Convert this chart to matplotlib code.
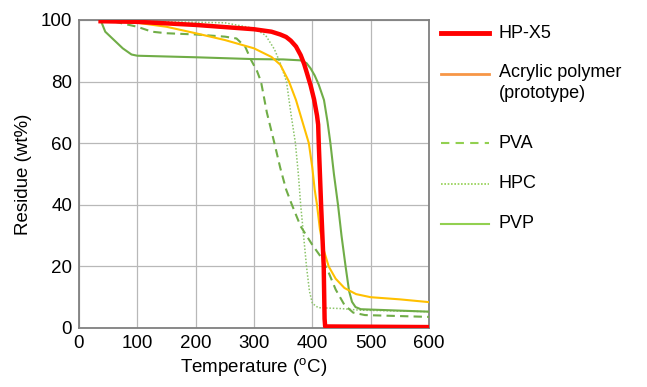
import matplotlib
matplotlib.use("Agg")
import matplotlib.pyplot as plt
from matplotlib.lines import Line2D

plt.rcParams['font.family'] = ['Liberation Sans', 'DejaVu Sans']
plt.rcParams['mathtext.fontset'] = 'custom'
plt.rcParams['mathtext.rm'] = 'Liberation Sans'

series_names = ["HP-X5", "Acrylic polymer\n(prototype)", "PVA", "HPC", "PVP"]

hpx5_t = [37, 100, 200, 300, 330, 345, 355, 363, 372, 380, 386, 391, 397, 403, 408, 410, 411, 415,
          419.5, 421, 422, 600]
hpx5_y = [99.6, 99.4, 98.4, 97.0, 96.2, 95.3, 94.5, 93.3, 91.4, 88.6, 85.7, 82.6, 78.8, 74.2, 69, 66, 60, 40,
          20, 3, 0.5, 0.3]

acr_t = [37, 100, 150, 200, 250, 300, 330, 345, 360, 372, 383, 394, 400, 404, 408, 413, 420, 428,
         440, 455, 475, 500, 550, 600]
acr_y = [100, 99.1, 97.8, 95.7, 93.5, 90.8, 88, 85.5, 80, 74, 67, 60, 52, 45, 40, 32, 25, 20,
         16, 13, 11, 10, 9.3, 8.4]

pva_t = [37, 60, 100, 125, 150, 200, 250, 270, 285, 295, 305, 312, 322, 335, 345, 355, 365, 380,
         400, 415, 428, 440, 455, 470, 490, 600]
pva_y = [100, 99.5, 97.8, 96.2, 95.7, 95.3, 94.6, 94, 91.3, 87, 83.5, 80, 70, 60, 52, 45, 40, 33,
         27, 23, 18, 12.5, 7.5, 5, 4.2, 3.6]

hpc_t = [37, 100, 250, 300, 320, 335, 345, 355.7, 363, 371, 376, 380, 385, 390, 395, 400, 410,
         450, 480, 600]
hpc_y = [100, 99.6, 99.1, 97.3, 95, 90.5, 86, 80, 70, 60, 50, 40, 30, 20, 12, 8, 6.6,
         6.3, 5.8, 5.3]

pvp_t = [37, 45, 60, 75, 90, 100, 200, 300, 350, 380, 390, 397, 404, 411, 420, 426, 431, 437, 444,
         450, 457, 463, 468, 474, 483, 600]
pvp_y = [100, 96.2, 93.5, 90.8, 88.8, 88.4, 87.9, 87.3, 87.2, 86.9, 86.0, 84.3, 82, 79, 74, 67, 60, 50, 40,
         30, 20, 12, 8.5, 6.8, 6.1, 5.3]

x_ticks = [0, 100, 200, 300, 400, 500, 600]
y_ticks = [0, 20, 40, 60, 80, 100]

fig = plt.figure(figsize=(6.47, 3.87), dpi=100)
ax = fig.add_axes([79/647, 1 - 328/387, 350/647, 308/387])

green = '#70ad47'
ax.plot(hpc_t, hpc_y, color='#8cc46a', lw=1.1, ls=(0, (1, 1.2)), zorder=3)
ax.plot(pva_t, pva_y, color=green, lw=1.5, ls=(0, (4, 2.5)), zorder=3)
ax.plot(pvp_t, pvp_y, color=green, lw=1.5, zorder=3)
ax.plot(acr_t, acr_y, color='#ffc000', lw=1.5, zorder=4)
ax.plot(hpx5_t, hpx5_y, color='#ff0000', lw=3.2, zorder=5, solid_joinstyle='round')

ax.set_xlim(0, 600)
ax.set_ylim(0, 100)
ax.set_xticks(x_ticks)
ax.set_yticks(y_ticks)
ax.tick_params(length=0, labelsize=13.5, pad=5, colors='black')
ax.grid(True, color='#b8b8b8', lw=0.9)
ax.set_axisbelow(True)
for s in ax.spines.values():
    s.set_color('#808080')
    s.set_linewidth(1.3)
ax.set_xlabel(r'Temperature ($^\mathrm{o}$C)', fontsize=13.5, labelpad=3)
ax.set_ylabel('Residue (wt%)', fontsize=13.5, labelpad=6)

# legend drawn manually
leg_handles = [
    dict(color='#ff0000', lw=3.5, ls='-'),
    dict(color='#f79646', lw=2.0, ls='-'),
    dict(color='#92d050', lw=1.5, ls=(0, (4, 3))),
    dict(color='#92d050', lw=1.2, ls=(0, (1, 1))),
    dict(color='#92d050', lw=1.5, ls='-'),
]
leg_y = [33, 74, 143, 184, 224]
for name, h, yy in zip(series_names, leg_handles, leg_y):
    yf = 1 - yy / 387
    fig.add_artist(Line2D([441/647, 489/647], [yf, yf], transform=fig.transFigure, **h))
    if '\n' in name:
        fig.text(499/647, 1 - (yy - 10) / 387, name, fontsize=13, va='top', ha='left',
                 linespacing=1.3, transform=fig.transFigure)
    else:
        fig.text(499/647, yf, name, fontsize=13, va='center', ha='left',
                 transform=fig.transFigure)

fig.savefig('out.png', dpi=100)
